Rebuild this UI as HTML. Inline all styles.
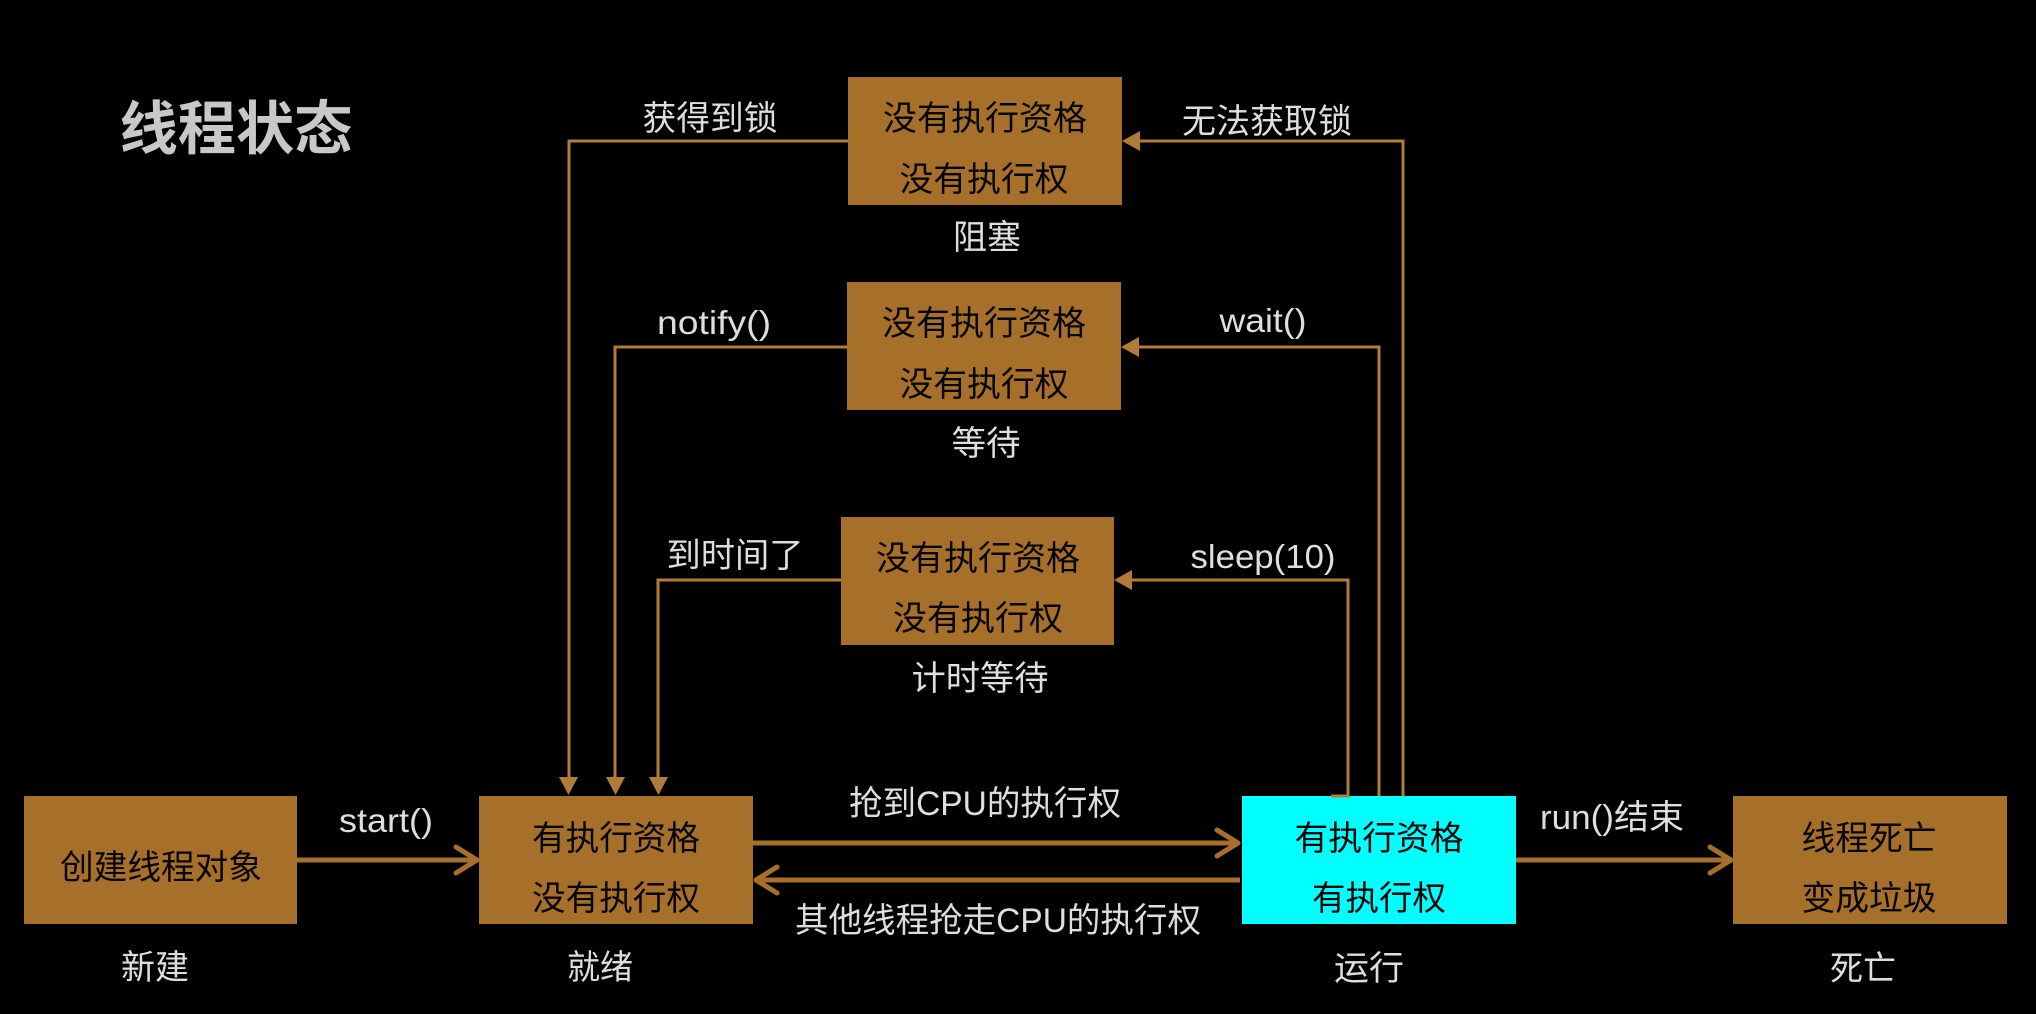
<!DOCTYPE html>
<html><head><meta charset="utf-8"><style>
html,body{margin:0;padding:0;background:#000;width:2036px;height:1014px;overflow:hidden}
svg{display:block}
text{font-family:"Liberation Sans","Noto Sans CJK SC",sans-serif;font-size:34px;text-anchor:middle}
.d{fill:#050505}.l{fill:#dedede}
</style></head><body>
<svg width="2036" height="1014" viewBox="0 0 2036 1014" xmlns="http://www.w3.org/2000/svg">
<rect width="2036" height="1014" fill="#000"/>
<g fill="#a6702a">
<rect x="24" y="796" width="273" height="128"/>
<rect x="479" y="796" width="274" height="128"/>
<rect x="1733" y="796" width="274" height="128"/>
<rect x="848" y="77" width="274" height="128"/>
<rect x="847" y="282" width="274" height="128"/>
<rect x="841" y="517" width="273" height="128"/>
</g>
<rect x="1242" y="796" width="274" height="128" fill="#00ffff"/>
<g fill="none" stroke="#b17c3a" stroke-width="3">
<path d="M848 141H569V780"/>
<path d="M847 347H615V780"/>
<path d="M841 580H658V780"/>
<path d="M1403 796V141H1138"/>
<path d="M1379 796V347H1137"/>
<path d="M1331 796H1348V580H1130"/>
</g>
<g fill="#b17c3a">
<path d="M559 777H578L568.500 795Z"/>
<path d="M606 777H625L615.500 795Z"/>
<path d="M649 777H668L658.500 795Z"/>
<path d="M1140 131V151L1122 141Z"/>
<path d="M1139 337V357L1121 347Z"/>
<path d="M1132 570V590L1114 580Z"/>
</g>
<g fill="none" stroke="#a6702a" stroke-width="5" stroke-linecap="round" stroke-linejoin="round">
<path d="M297 860H476" stroke-linecap="butt"/><path d="M456 847L477 860L456 873"/>
<path d="M753 843H1236" stroke-linecap="butt"/><path d="M1217 830L1238 843L1217 856"/>
<path d="M1240 880H758" stroke-linecap="butt"/><path d="M777 867L756 880L777 893"/>
<path d="M1516 860H1730" stroke-linecap="butt"/><path d="M1710 847L1731 860L1710 873"/>
</g>
<text x="236" y="149" style="font-size:58px;font-weight:700;fill:#c8c8c8" textLength="233" lengthAdjust="spacingAndGlyphs">线程状态</text>
<g class="d">
<text class="d" x="161" y="879" textLength="202" lengthAdjust="spacingAndGlyphs">创建线程对象</text>
<text class="d" x="616" y="850" textLength="168" lengthAdjust="spacingAndGlyphs">有执行资格</text>
<text class="d" x="616" y="910" textLength="168" lengthAdjust="spacingAndGlyphs">没有执行权</text>
<text class="d" x="1379" y="850" textLength="169" lengthAdjust="spacingAndGlyphs">有执行资格</text>
<text class="d" x="1379" y="910" textLength="134" lengthAdjust="spacingAndGlyphs">有执行权</text>
<text class="d" x="1869" y="850" textLength="135" lengthAdjust="spacingAndGlyphs">线程死亡</text>
<text class="d" x="1869" y="910" textLength="135" lengthAdjust="spacingAndGlyphs">变成垃圾</text>
<text class="d" x="985" y="130" textLength="204" lengthAdjust="spacingAndGlyphs">没有执行资格</text>
<text class="d" x="984" y="191" textLength="169" lengthAdjust="spacingAndGlyphs">没有执行权</text>
<text class="d" x="984" y="335" textLength="204" lengthAdjust="spacingAndGlyphs">没有执行资格</text>
<text class="d" x="984" y="396" textLength="169" lengthAdjust="spacingAndGlyphs">没有执行权</text>
<text class="d" x="978" y="570" textLength="204" lengthAdjust="spacingAndGlyphs">没有执行资格</text>
<text class="d" x="978" y="630" textLength="170" lengthAdjust="spacingAndGlyphs">没有执行权</text>
</g>
<g class="l">
<text class="l" x="155" y="979" textLength="68" lengthAdjust="spacingAndGlyphs">新建</text>
<text class="l" x="600" y="979" textLength="66" lengthAdjust="spacingAndGlyphs">就绪</text>
<text class="l" x="1369" y="980" textLength="70" lengthAdjust="spacingAndGlyphs">运行</text>
<text class="l" x="1863" y="980" textLength="66" lengthAdjust="spacingAndGlyphs">死亡</text>
<text class="l" x="987" y="249" textLength="68" lengthAdjust="spacingAndGlyphs">阻塞</text>
<text class="l" x="986" y="455" textLength="69" lengthAdjust="spacingAndGlyphs">等待</text>
<text class="l" x="980" y="690" textLength="137" lengthAdjust="spacingAndGlyphs">计时等待</text>
<text class="l" x="710" y="130" textLength="135" lengthAdjust="spacingAndGlyphs">获得到锁</text>
<text class="l" x="1267" y="133" textLength="170" lengthAdjust="spacingAndGlyphs">无法获取锁</text>
<text class="l" x="714" y="334" textLength="114" lengthAdjust="spacingAndGlyphs" style="font-size:33px">notify()</text>
<text class="l" x="1263" y="332" textLength="87" lengthAdjust="spacingAndGlyphs" style="font-size:33px">wait()</text>
<text class="l" x="735" y="567" textLength="137" lengthAdjust="spacingAndGlyphs">到时间了</text>
<text class="l" x="1263" y="568" textLength="145" lengthAdjust="spacingAndGlyphs" style="font-size:33px">sleep(10)</text>
<text class="l" x="386" y="832" textLength="94" lengthAdjust="spacingAndGlyphs" style="font-size:33px">start()</text>
<text class="l" x="985" y="815" textLength="272" lengthAdjust="spacingAndGlyphs">抢到CPU的执行权</text>
<text class="l" x="998" y="932" textLength="406" lengthAdjust="spacingAndGlyphs">其他线程抢走CPU的执行权</text>
<text class="l" x="1612" y="829" textLength="144" lengthAdjust="spacingAndGlyphs">run()结束</text>
</g>
</svg>
</body></html>
